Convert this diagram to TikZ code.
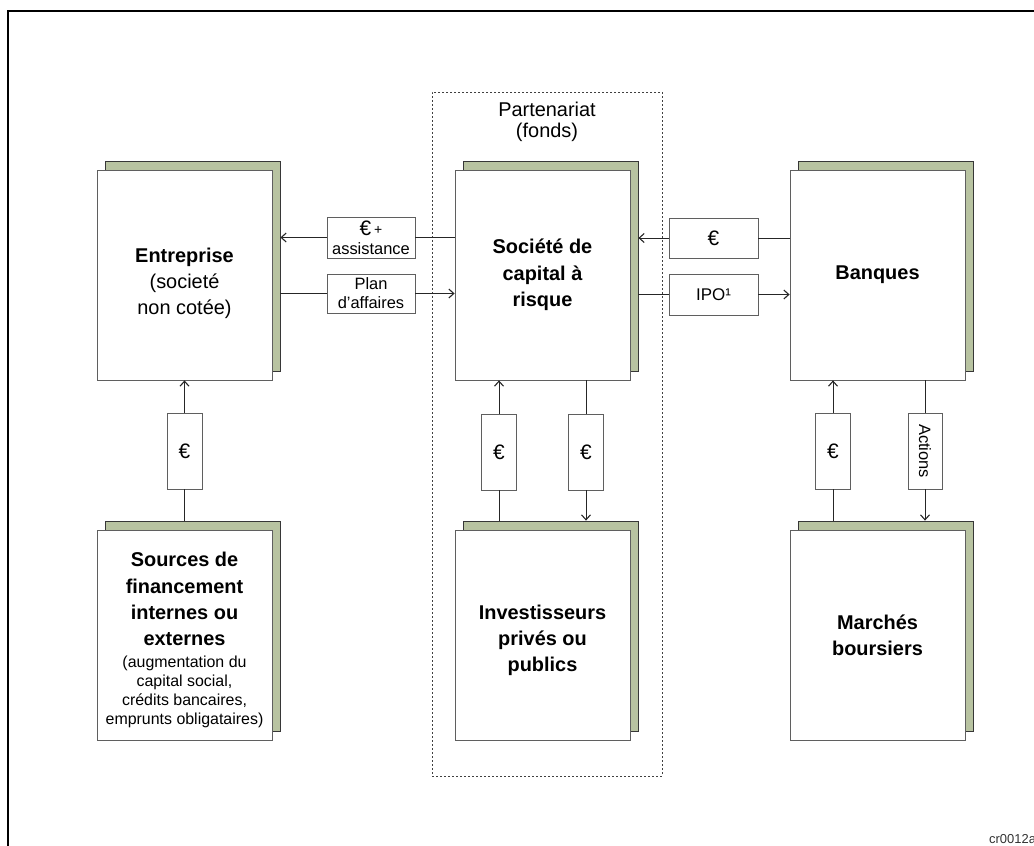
\documentclass[tikz,border=0pt]{standalone}
\usepackage{fontspec}
\setmainfont{Liberation Sans}
\usetikzlibrary{arrows.meta}
\definecolor{shgreen}{RGB}{184,195,161}
\definecolor{shline}{RGB}{55,55,55}
\definecolor{boxline}{RGB}{95,95,95}
\begin{document}
\begin{tikzpicture}[x=1bp,y=-1bp,
  shadowbox/.style={draw=shline, fill=shgreen, minimum width=175bp, minimum height=210bp, inner sep=0pt, line width=0.8bp},
  mainbox/.style={draw=boxline, fill=white, minimum width=175bp, minimum height=210bp, inner sep=0pt, align=flush center, text width=172bp, line width=0.8bp, font=\fontsize{20}{26.5}\selectfont},
  smallbox/.style={draw=boxline, fill=white, inner sep=0pt, align=center, line width=0.8bp, font=\fontsize{16.5}{19}\selectfont},
  eurobox/.style={smallbox, minimum width=35bp, minimum height=76bp, font=\fontsize{21}{21}\selectfont},
  dotbox/.style={draw=black!75, dash pattern=on 2bp off 2bp, line width=0.8bp, minimum width=230bp, minimum height=684bp, inner sep=0pt},
  conn/.style={draw=black!85, line width=0.9bp},
  arr/.style={conn, -{Straight Barb[length=5bp,width=9bp,line width=1.1bp]}}
]
\useasboundingbox (0,0) rectangle (1034,846);
\fill[white] (0,0) rectangle (1034,846);
% frame
\draw[line width=2.5bp] (8,846) -- (8,11) -- (1034,11);

% partnership dotted frame
\node[dotbox] (part) at (547,434) {};
\node[align=center, font=\fontsize{20}{21}\selectfont] (partlbl) at (547,122) {Partenariat\\(fonds)};

% main boxes with shadows
\node[shadowbox] (ents) at (192.5,266) {};
\node[mainbox] (ent) at (184.5,275) {\rule{0pt}{31bp}{\bfseries Entreprise}\\(societé\\non cotée)};

\node[shadowbox] (srcs) at (192.5,626) {};
\node[mainbox] (src) at (184.5,635) {{\bfseries\rule{0pt}{25bp}Sources de\\financement\\internes ou\\externes\par}\vspace{2bp}{\fontsize{16}{19.3}\selectfont (augmentation du\\capital social,\\crédits bancaires,\\emprunts obligataires)\par}};

\node[shadowbox] (socs) at (550.5,266) {};
\node[mainbox] (soc) at (542.5,275) {\bfseries Société de\\capital à\\risque};

\node[shadowbox] (invs) at (550.5,626) {};
\node[mainbox] (inv) at (542.5,635) {\bfseries\rule{0pt}{25bp}Investisseurs\\privés ou\\publics};

\node[shadowbox] (bans) at (885.5,266) {};
\node[mainbox] (ban) at (877.5,275) {\bfseries Banques};

\node[shadowbox] (mars) at (885.5,626) {};
\node[mainbox] (mar) at (877.5,635) {\bfseries Marchés\\boursiers};

% horizontal label boxes
\node[smallbox, minimum width=88bp, minimum height=41bp] (eas) at (371,237.5) {{\fontsize{21}{19}\selectfont €}\,\raisebox{1bp}{\fontsize{14}{14}\selectfont +}\\assistance};
\node[smallbox, minimum width=88bp, minimum height=39bp] (plan) at (371,293.5) {Plan\\d'affaires};
\node[smallbox, minimum width=89bp, minimum height=40bp, font=\fontsize{21}{21}\selectfont] (eur) at (713.5,238) {€};
\node[smallbox, minimum width=89bp, minimum height=41bp, font=\fontsize{17}{19}\selectfont] (ipo) at (713.5,294.5) {IPO¹};

% vertical label boxes
\node[eurobox] (e1) at (184.5,451) {€};
\node[eurobox] (e2) at (499,452) {€};
\node[eurobox] (e3) at (586,452) {€};
\node[eurobox] (e4) at (833,451) {€};
\node[smallbox, rotate=-90, minimum width=76bp, minimum height=34bp, font=\fontsize{16.5}{19}\selectfont] (act) at (925,451) {Actions};

% horizontal connectors
\draw[conn] (soc.west |- eas.east) -- (eas.east);
\draw[arr] (eas.west) -- (ents.east |- eas.west);
\draw[conn] (ents.east |- plan.west) -- (plan.west);
\draw[arr] (plan.east) -- (soc.west |- plan.east);
\draw[conn] (ban.west |- eur.east) -- (eur.east);
\draw[arr] (eur.west) -- (socs.east |- eur.west);
\draw[conn] (socs.east |- ipo.west) -- (ipo.west);
\draw[arr] (ipo.east) -- (ban.west |- ipo.east);

% vertical connectors
\draw[conn] (srcs.north -| e1.south) -- (e1.south);
\draw[arr] (e1.north) -- (ent.south -| e1.north);
\draw[conn] (invs.north -| e2.south) -- (e2.south);
\draw[arr] (e2.north) -- (soc.south -| e2.north);
\draw[conn] (soc.south -| e3.north) -- (e3.north);
\draw[arr] (e3.south) -- (invs.north -| e3.south);
\draw[conn] (mars.north -| e4.south) -- (e4.south);
\draw[arr] (e4.north) -- (ban.south -| e4.north);
\draw[conn] (ban.south -| act.west) -- (act.west);
\draw[arr] (act.east) -- (mars.north -| act.east);

% reference code
\node[anchor=base west, font=\fontsize{13}{13}\selectfont, text=black!80, inner sep=0pt] (code) at (989,843) {cr0012a};
\end{tikzpicture}
\end{document}
